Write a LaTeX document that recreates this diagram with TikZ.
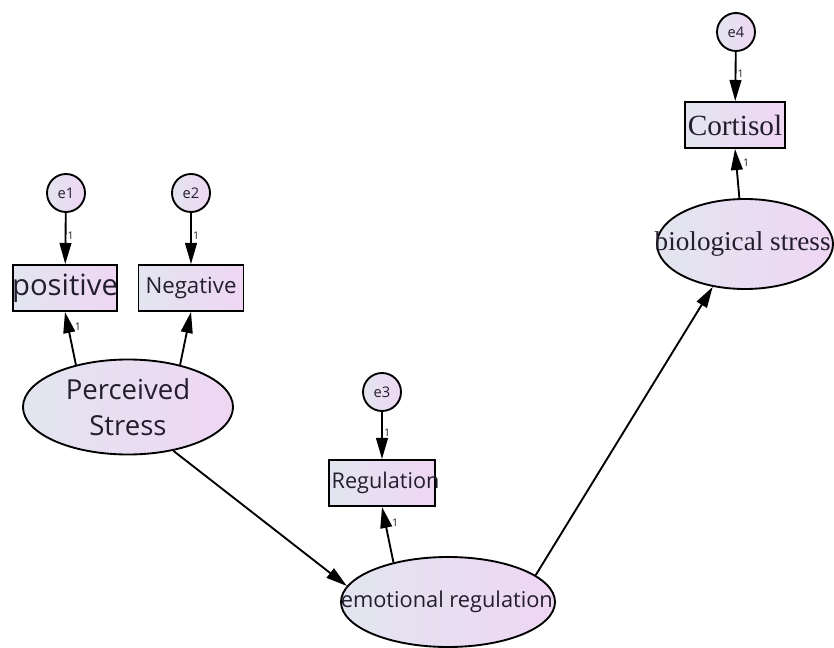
\documentclass[tikz,border=0pt]{standalone}
\usepackage{fontspec}
\setmainfont{Liberation Serif}
\setsansfont{Open Sans}
\definecolor{shadeLeft}{HTML}{E2E5F0}
\definecolor{shadeRight}{HTML}{EFD6F3}
\definecolor{inkText}{HTML}{231E2E}
\usetikzlibrary{shapes.geometric, arrows.meta, positioning}

\begin{document}
\begin{tikzpicture}[
    x=0.03cm, y=-0.03cm,
    every node/.style={text=inkText},
    lat/.style={ellipse, draw, line width=1.6pt, left color=shadeLeft, right color=shadeRight,
                inner sep=0pt, align=center, font=\sffamily},
    obs/.style={rectangle, draw, line width=1.6pt, left color=shadeLeft, right color=shadeRight,
                minimum height=1.38cm, inner sep=0pt, font=\sffamily},
    err/.style={circle, draw, line width=1.6pt, left color=shadeLeft, right color=shadeRight,
                minimum size=1.14cm, inner sep=0pt, font=\sffamily\fontsize{12.5}{14}\selectfont},
    path/.style={line width=1.6pt, -{Triangle[length=18pt, width=10pt]}},
    one/.style={font=\sffamily\fontsize{9}{10}\selectfont, inner sep=1pt}
  ]
    \useasboundingbox (0,0) rectangle (834,648);

    % error terms
    \node[err] (e1) at (66,193) {e1};
    \node[err] (e2) at (191,193) {e2};
    \node[err] (e3) at (382,392) {e3};
    \node[err] (e4) at (736,32) {e4};

    % observed variables
    \node[obs, minimum width=3.12cm, font=\sffamily\fontsize{25}{28}\selectfont] (pos) at (65,288) {\makebox[0pt]{positive}};
    \node[obs, minimum width=3.15cm, font=\sffamily\fontsize{19}{22}\selectfont] (neg) at (191,288) {Negative};
    \node[obs, minimum width=3.18cm, font=\sffamily\fontsize{18.5}{20}\selectfont] (reg) at (382,483) {\makebox[0pt]{\hspace{6pt}Regulation}};
    \node[obs, minimum width=3.0cm, font=\rmfamily\fontsize{25}{28}\selectfont] (cort) at (735,125) {Cortisol};

    % latent variables
    \node[lat, minimum width=6.3cm, minimum height=2.85cm, font=\sffamily\fontsize{23.5}{31}\selectfont] (ps) at (128,407) {Perceived\\Stress};
    \node[lat, minimum width=6.42cm, minimum height=2.7cm, font=\sffamily\fontsize{18.6}{22}\selectfont] (er) at (448,602) {\makebox[0pt]{\hspace{-2pt}emotional regulation}};
    \node[lat, minimum width=5.28cm, minimum height=2.7cm, font=\rmfamily\fontsize{23.2}{28}\selectfont] (bio) at (745,244) {\makebox[0pt]{\hspace{-4pt}biological stress}};

    % error paths
    \draw[path] (e1) -- node[one, right, pos=0.45] {1} (pos);
    \draw[path] (e2) -- node[one, right, pos=0.45] {1} (neg);
    \draw[path] (e3) -- node[one, right, pos=0.45] {1} (reg);
    \draw[path] (e4) -- node[one, right, pos=0.45] {1} (cort);

    % loadings
    \draw[path] (ps.141) -- node[one, right=4pt, pos=0.72] {1} (pos.south);
    \draw[path] (ps.39) -- (neg.south);
    \draw[path] (er.144) -- node[one, right=4pt, pos=0.72] {1} (reg.south);
    \draw[path] (bio.97) -- node[one, right=4pt, pos=0.72] {1} (cort.south);

    % structural paths
    \draw[path] (ps.-44) -- (er.171);
    \draw[path] (er.17) -- (bio.233);
  \end{tikzpicture}
\end{document}
